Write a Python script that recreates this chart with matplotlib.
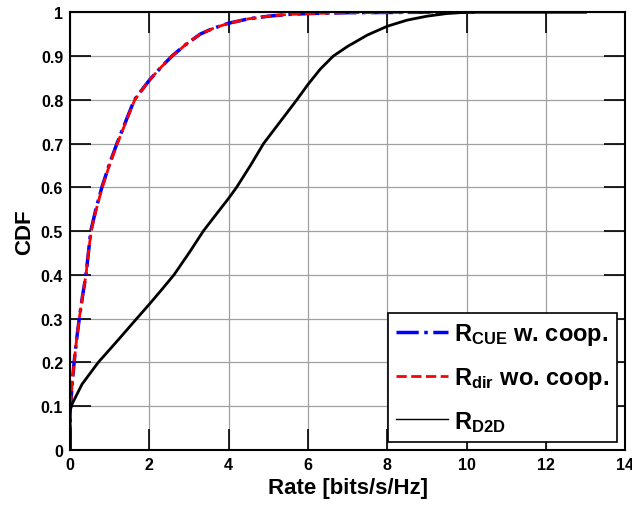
import numpy as np
import matplotlib.pyplot as plt

plt.rcParams['font.family'] = ['Liberation Sans', 'DejaVu Sans']
plt.rcParams['font.weight'] = 'bold'
plt.rcParams['mathtext.fontset'] = 'custom'
plt.rcParams['mathtext.rm'] = 'Liberation Sans:bold'
plt.rcParams['mathtext.bf'] = 'Liberation Sans:bold'

# CDF of R_CUE with cooperation
x_cue = [0, 0, 0.02, 0.05, 0.1, 0.16, 0.23, 0.31, 0.40, 0.46, 0.52, 0.65, 0.80, 0.98,
         1.18, 1.40, 1.62, 2.0, 2.3, 2.57, 2.9, 3.28, 3.6, 4.0, 4.5, 5.0, 5.5, 6.0,
         7.0, 8.0, 9.0, 10.2]
y_cue = [0, 0.09, 0.11, 0.15, 0.2, 0.25, 0.3, 0.35, 0.4, 0.45, 0.5, 0.55, 0.6, 0.65,
         0.7, 0.75, 0.8, 0.845, 0.875, 0.9, 0.925, 0.95, 0.963, 0.975, 0.985, 0.991,
         0.995, 0.997, 0.999, 0.9995, 1.0, 1.0]

# CDF of R_dir without cooperation
x_dir = [0, 0, 0.02, 0.05, 0.1, 0.16, 0.23, 0.31, 0.40, 0.46, 0.53, 0.66, 0.81, 0.99,
         1.19, 1.41, 1.63, 2.0, 2.3, 2.58, 2.9, 3.28, 3.6, 4.0, 4.5, 5.0, 5.5, 6.0,
         7.0, 8.0, 9.0, 10.2]
y_dir = [0, 0.09, 0.11, 0.15, 0.2, 0.25, 0.3, 0.35, 0.4, 0.45, 0.5, 0.55, 0.6, 0.65,
         0.7, 0.75, 0.8, 0.845, 0.875, 0.9, 0.925, 0.95, 0.963, 0.975, 0.985, 0.991,
         0.995, 0.997, 0.999, 0.9995, 1.0, 1.0]

# CDF of R_D2D
x_d2d = [0, 0, 0.05, 0.3, 0.71, 1.2, 1.68, 2.0, 2.3, 2.62, 3.0, 3.36, 3.7, 4.0, 4.2,
         4.55, 4.88, 5.3, 5.72, 6.0, 6.31, 6.64, 7.0, 7.5, 8.0, 8.5, 9.0, 9.5, 10.0, 13.0]
y_d2d = [0, 0.09, 0.105, 0.15, 0.2, 0.25, 0.3, 0.333, 0.365, 0.4, 0.45, 0.5, 0.54, 0.575,
         0.6, 0.65, 0.7, 0.75, 0.8, 0.835, 0.87, 0.9, 0.922, 0.948, 0.968, 0.982, 0.991,
         0.997, 1.0, 1.0]

fig = plt.figure(figsize=(6.32, 5.10), dpi=100)
ax = fig.add_axes([0.111, 0.116, 0.878, 0.858])

ax.plot(x_cue, y_cue, '-.', color='blue', linewidth=2.5, label=r'$\mathrm{R_{CUE}}$ w. coop.')
ax.plot(x_dir, y_dir, '--', color='red', linewidth=2, label=r'$\mathrm{R_{dir}}$ wo. coop.')
ax.plot(x_d2d, y_d2d, '-', color='black', linewidth=2, label=r'$\mathrm{R_{D2D}}$')

ax.set_xlim(0, 14)
ax.set_ylim(0, 1)
ax.set_xticks(np.arange(0, 15, 2))
ax.set_yticks(np.arange(0, 1.01, 0.1))
ax.set_yticklabels(['0', '0.1', '0.2', '0.3', '0.4', '0.5', '0.6', '0.7', '0.8', '0.9', '1'])
ax.tick_params(direction='in', top=True, right=True, length=15, width=1.2,
               labelsize=11.5, pad=5)
for lab in ax.get_xticklabels() + ax.get_yticklabels():
    lab.set_fontweight('bold')
ax.grid(True, color='#a0a0a0', linewidth=0.9)
for sp in ax.spines.values():
    sp.set_linewidth(1.5)

ax.set_xlabel('Rate [bits/s/Hz]', fontsize=16, fontweight='bold', labelpad=4)
ax.set_ylabel('CDF', fontsize=16, fontweight='bold')

leg = ax.legend(loc='lower right', fontsize=17, fancybox=False, framealpha=1,
                edgecolor='black', borderpad=0.35, handlelength=2.2, handletextpad=0.25,
                labelspacing=0.75, borderaxespad=0, bbox_to_anchor=(0.9856, 0.0183))
leg.get_frame().set_linewidth(1.2)
leg.get_lines()[2].set_linewidth(1)
for t in leg.get_texts():
    t.set_fontweight('bold')

plt.savefig('out.png', dpi=100)
